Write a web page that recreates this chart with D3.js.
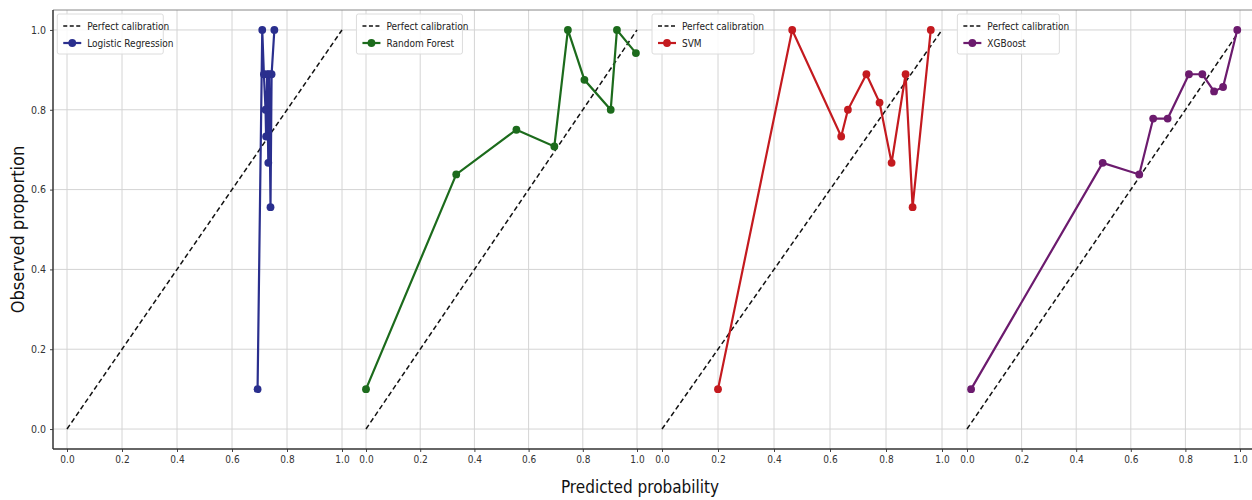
<!DOCTYPE html>
<html>
<head>
    <title>Calibration curves</title>
    <style>
        body { margin: 0; background: #fff; }
        text { font-family: "DejaVu Sans Condensed", "DejaVu Sans", sans-serif; }
    </style>
    <script src="https://d3js.org/d3.v7.min.js"></script>
</head>
<body>
<script type="text/javascript">

    // models, one panel each
    var models = ['Logistic Regression', 'Random Forest', 'SVM', 'XGBoost'];
    var colors = ['#2a2f8e', '#1c6b1c', '#c41a1f', '#6c1b6e'];

    // calibration points (mean predicted, observed)
    var lrPred = [0.693, 0.710, 0.716, 0.722, 0.724, 0.728, 0.732, 0.735, 0.740, 0.744, 0.754];
    var lrObs  = [0.10, 1.00, 0.889, 0.80, 0.733, 0.889, 0.667, 0.889, 0.556, 0.889, 1.00];

    var rfPred = [0.0, 0.333, 0.555, 0.695, 0.745, 0.806, 0.903, 0.926, 0.996];
    var rfObs  = [0.10, 0.638, 0.75, 0.708, 1.00, 0.875, 0.80, 1.00, 0.942];

    var svmPred = [0.20, 0.465, 0.64, 0.664, 0.73, 0.777, 0.82, 0.87, 0.895, 0.96];
    var svmObs  = [0.10, 1.00, 0.733, 0.80, 0.889, 0.818, 0.667, 0.889, 0.556, 1.00];

    var xgbPred = [0.015, 0.497, 0.631, 0.682, 0.735, 0.813, 0.862, 0.905, 0.938, 0.99];
    var xgbObs  = [0.10, 0.667, 0.638, 0.778, 0.778, 0.889, 0.889, 0.846, 0.857, 1.00];

    var predicted = [lrPred, rfPred, svmPred, xgbPred];
    var observed = [lrObs, rfObs, svmObs, xgbObs];

    var ticks = [0, 0.2, 0.4, 0.6, 0.8, 1.0];

    var W = 1252, H = 500;
    var left = 53, topY = 10, bottomY = 449;
    // pixel spots of 0.0 and 1.0 in each panel (panels were stitched, widths differ a bit)
    var panelSpan = [[67, 342], [366, 637], [662, 942], [967, 1240]];

    var svg = d3.select('body')
                    .append('svg')
                    .attr('width', W)
                    .attr('height', H);

    var y = d3.scaleLinear().domain([-0.05, 1.05]).range([bottomY, topY]);

    // horizontal grid across the whole row
    svg.append('g')
        .selectAll('line')
        .data(ticks)
        .enter()
        .append('line')
        .attr('x1', left).attr('x2', W)
        .attr('y1', function(d) { return y(d); })
        .attr('y2', function(d) { return y(d); })
        .style('stroke', '#d4d4d4')
        .style('stroke-width', 1);

    models.forEach(function(name, i) {
        var x = d3.scaleLinear().domain([0, 1]).range(panelSpan[i]);
        var x0 = x(-0.05);
        var g = svg.append('g');

        // vertical grid
        g.selectAll('line.grid')
            .data(ticks)
            .enter()
            .append('line')
            .attr('class', 'grid')
            .attr('x1', function(d) { return x(d); })
            .attr('x2', function(d) { return x(d); })
            .attr('y1', topY).attr('y2', bottomY)
            .style('stroke', '#d4d4d4')
            .style('stroke-width', 1);

        // x axis
        var ax = g.append('g')
            .attr('transform', 'translate(0,' + bottomY + ')')
            .call(d3.axisBottom(x).tickValues(ticks).tickFormat(d3.format('.1f')).tickSize(3).tickPadding(4));
        ax.select('.domain').remove();
        ax.selectAll('line').style('stroke', '#444');
        ax.selectAll('text').style('font-size', '10px').style('fill', '#333');

        // perfect calibration
        g.append('line')
            .attr('x1', x(0)).attr('y1', y(0))
            .attr('x2', x(1)).attr('y2', y(1))
            .style('stroke', '#111')
            .style('stroke-width', 1.5)
            .style('stroke-dasharray', '5,3');

        var pts = predicted[i].map(function(p, j) { return [p, observed[i][j]]; });

        g.append('path')
            .datum(pts)
            .attr('d', d3.line()
                .x(function(d) { return x(d[0]); })
                .y(function(d) { return y(d[1]); }))
            .style('fill', 'none')
            .style('stroke', colors[i])
            .style('stroke-width', 2.2);

        g.selectAll('circle')
            .data(pts)
            .enter()
            .append('circle')
            .attr('cx', function(d) { return x(d[0]); })
            .attr('cy', function(d) { return y(d[1]); })
            .attr('r', 3.9)
            .style('fill', colors[i]);

        // legend
        var lg = g.append('g').attr('transform', 'translate(' + (x0 + 4) + ',' + (topY + 4) + ')');
        var lw = name.length > 12 ? 106 : 102;
        lg.append('rect')
            .attr('width', lw).attr('height', 40)
            .attr('rx', 2)
            .style('fill', '#fff')
            .style('fill-opacity', 0.85)
            .style('stroke', '#dcdcdc');
        lg.append('line')
            .attr('x1', 6).attr('x2', 24).attr('y1', 12).attr('y2', 12)
            .style('stroke', '#111').style('stroke-width', 1.5).style('stroke-dasharray', '4,2.5');
        lg.append('text').attr('x', 30).attr('y', 15.5).text('Perfect calibration')
            .style('font-size', '10px').style('fill', '#222');
        lg.append('line')
            .attr('x1', 6).attr('x2', 24).attr('y1', 29).attr('y2', 29)
            .style('stroke', colors[i]).style('stroke-width', 2.2);
        lg.append('circle').attr('cx', 15).attr('cy', 29).attr('r', 3.9).style('fill', colors[i]);
        lg.append('text').attr('x', 30).attr('y', 32.5).text(name)
            .style('font-size', '10px').style('fill', '#222');
    });

    // y axis on the first panel only
    var ay = svg.append('g')
        .attr('transform', 'translate(' + left + ',0)')
        .call(d3.axisLeft(y).tickValues(ticks).tickFormat(d3.format('.1f')).tickSize(3).tickPadding(4));
    ay.select('.domain').remove();
    ay.selectAll('line').style('stroke', '#444');
    ay.selectAll('text').style('font-size', '10.5px').style('fill', '#333');

    // spines
    svg.append('line').attr('x1', left).attr('x2', W).attr('y1', topY).attr('y2', topY)
        .style('stroke', '#888').style('stroke-width', 1);
    svg.append('line').attr('x1', left).attr('x2', W).attr('y1', bottomY).attr('y2', bottomY)
        .style('stroke', '#333').style('stroke-width', 1.5);
    svg.append('line').attr('x1', left).attr('x2', left).attr('y1', topY).attr('y2', bottomY)
        .style('stroke', '#333').style('stroke-width', 1.5);

    // axis titles
    svg.append('text')
        .attr('transform', 'translate(24,' + ((topY + bottomY) / 2) + ') rotate(-90)')
        .attr('text-anchor', 'middle')
        .style('font-size', '18px')
        .style('fill', '#111')
        .text('Observed proportion');

    svg.append('text')
        .attr('x', 640).attr('y', 493)
        .attr('text-anchor', 'middle')
        .style('font-size', '17px')
        .style('fill', '#111')
        .text('Predicted probability');

</script>
</body>
</html>
